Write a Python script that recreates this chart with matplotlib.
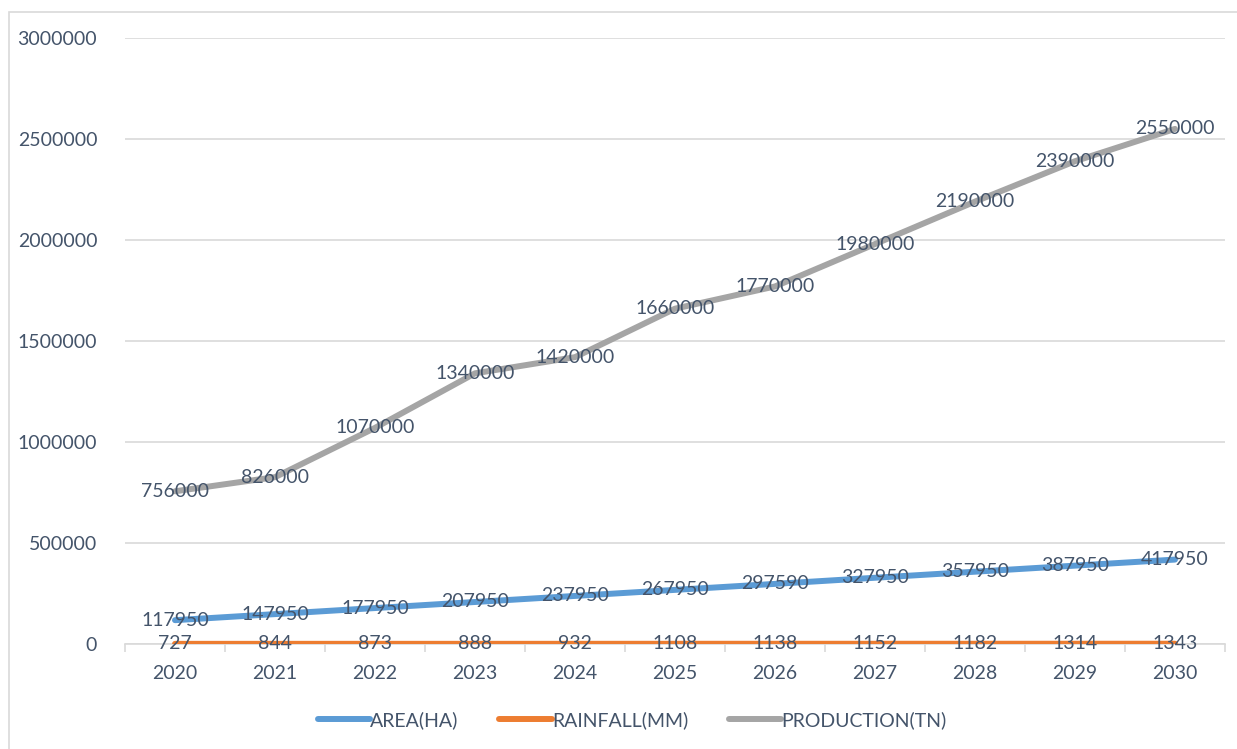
import matplotlib
matplotlib.use("Agg")
import matplotlib.pyplot as plt
from matplotlib.patches import Rectangle

years = ["2020", "2021", "2022", "2023", "2024", "2025", "2026", "2027", "2028", "2029", "2030"]
area = [117950, 147950, 177950, 207950, 237950, 267950, 297590, 327950, 357950, 387950, 417950]
rainfall = [727, 844, 873, 888, 932, 1108, 1138, 1152, 1182, 1314, 1343]
production = [756000, 826000, 1070000, 1340000, 1420000, 1660000, 1770000, 1980000, 2190000, 2390000, 2550000]
yticks = [0, 500000, 1000000, 1500000, 2000000, 2500000, 3000000]

plt.rcParams['font.family'] = ['Lato', 'DejaVu Sans']
txt = '#44546A'
fs = 14

fig = plt.figure(figsize=(12.37, 7.49), dpi=100)
ax = fig.add_axes([125/1237, 105/749, 1100/1237, 606/749])

fig.patches.append(Rectangle((9/1237, -0.1), 1.2, (749-12)/749 + 0.1, transform=fig.transFigure,
                             fill=False, edgecolor='#D9D9D9', linewidth=1.2))

x = list(range(len(years)))
series = [(area, '#5B9BD5', 'AREA(HA)'), (rainfall, '#ED7D31', 'RAINFALL(MM)'),
          (production, '#A5A5A5', 'PRODUCTION(TN)')]
for vals, col, name in series:
    ax.plot(x, vals, color=col, linewidth=4.3, solid_capstyle='round', label=name, zorder=3)
for vals, col, name in series:
    for xi, v in zip(x, vals):
        ax.text(xi, v, f"{v}", ha='center', va='center', fontsize=fs, color=txt, zorder=4)

ax.set_xlim(-0.5, len(years) - 0.5)
ax.set_ylim(0, 3000000)
ax.set_yticks(yticks)
ax.set_yticklabels([str(t) for t in yticks])
ax.set_xticks(x)
ax.set_xticklabels(years)
ax.set_xticks([i - 0.5 for i in range(len(years) + 1)], minor=True)
ax.tick_params(axis='x', which='major', length=0, labelsize=fs, labelcolor=txt, pad=15)
ax.tick_params(axis='x', which='minor', length=6, color='#D9D9D9', width=1.2)
ax.tick_params(axis='y', length=0, labelsize=fs, labelcolor=txt, pad=20)
ax.grid(axis='y', color='#D9D9D9', linewidth=1.2)
ax.set_axisbelow(True)
for s in ['top', 'right', 'left']:
    ax.spines[s].set_visible(False)
ax.spines['bottom'].set_color('#D9D9D9')
ax.spines['bottom'].set_linewidth(1.2)

leg = fig.legend(loc='center', bbox_to_anchor=(0.511, 29/749), ncol=3, frameon=False,
                 fontsize=fs, handlelength=2.7, handletextpad=0.0, columnspacing=2.1)
for t in leg.get_texts():
    t.set_color(txt)

fig.savefig('out.png', dpi=100)
